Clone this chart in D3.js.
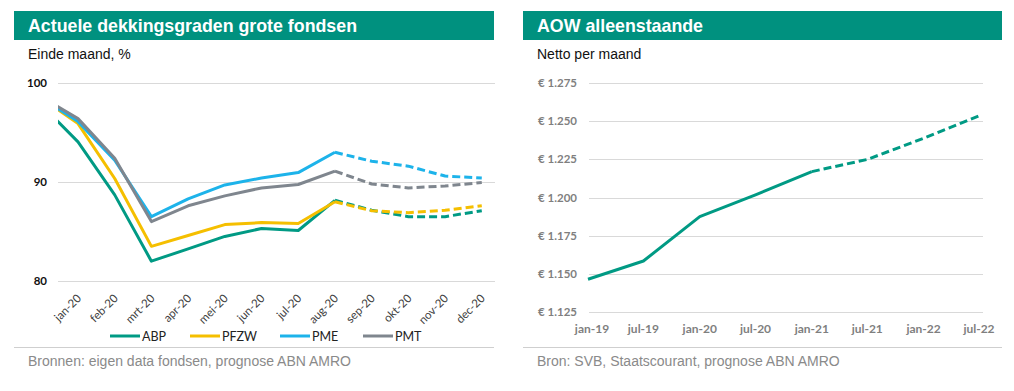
<!DOCTYPE html>
<html><head><meta charset="utf-8">
<script src="https://cdn.jsdelivr.net/npm/d3@7"></script>
<style>
html,body{margin:0;padding:0;background:#fff;}
svg{display:block;}
</style></head>
<body>
<svg id="c" width="1014" height="391"></svg>
<script>
// ---------- Left chart data ----------
const months = ["dec-19","jan-20","feb-20","mrt-20","apr-20","mei-20","jun-20","jul-20","aug-20","sep-20","okt-20","nov-20","dec-20"];
const monthLabels = ["jan-20","feb-20","mrt-20","apr-20","mei-20","jun-20","jul-20","aug-20","sep-20","okt-20","nov-20","dec-20"];
const abp  = [97.8, 94.05, 88.7, 82.0, 83.25, 84.5, 85.3, 85.1, 88.15, 87.15, 86.5, 86.5, 87.1];
const pfzw = [98.5, 95.9, 90.35, 83.5, 84.6, 85.7, 85.9, 85.8, 88.0, 87.1, 86.9, 87.15, 87.6];
const pme  = [98.5, 96.1, 92.2, 86.5, 88.3, 89.7, 90.4, 90.95, 93.0, 92.1, 91.6, 90.6, 90.4];
const pmt  = [98.6, 96.4, 92.4, 86.0, 87.6, 88.6, 89.4, 89.75, 91.1, 89.8, 89.4, 89.6, 89.95];
const forecastStart = "aug-20";
const leftTicks = [80, 90, 100];
const seriesNames = ["ABP","PFZW","PME","PMT"];

// ---------- Right chart data ----------
const aowDates = ["2019-01","2019-07","2020-01","2020-07","2021-01","2021-07","2022-01","2022-07"];
const aowLabels = ["jan-19","jul-19","jan-20","jul-20","jan-21","jul-21","jan-22","jul-22"];
const aowValues = [1.1463, 1.1583, 1.1874, 1.2017, 1.2170, 1.2250, 1.2389, 1.2536];
const aowForecastStart = "2021-01";
const rightTicks = [1.125, 1.150, 1.175, 1.200, 1.225, 1.250, 1.275];

const TEAL = "#00917f";
const colors = {ABP: "#009a84", PFZW: "#f5bf00", PME: "#1db3ea", PMT: "#7f868e"};
const seriesData = {ABP: abp, PFZW: pfzw, PME: pme, PMT: pmt};

const svg = d3.select("#c");
const AX = "Lato, 'Open Sans', sans-serif";
const TX = "'Liberation Sans', Arial, sans-serif";

function panel(x0, x1, title, subtitle, footer) {
  svg.append("rect").attr("x", x0).attr("y", 11).attr("width", x1 - x0).attr("height", 29).attr("fill", TEAL);
  svg.append("text").attr("x", x0 + 14).attr("y", 32).attr("fill", "#fff")
    .attr("font-family", TX).attr("font-weight", "bold").attr("font-size", "17.8px").text(title);
  svg.append("text").attr("x", x0 + 14).attr("y", 59).attr("fill", "#111")
    .attr("font-family", TX).attr("font-size", "14px").text(subtitle);
  svg.append("line").attr("x1", x0).attr("x2", x1).attr("y1", 347.5).attr("y2", 347.5)
    .attr("stroke", "#cfcfcf").attr("stroke-width", 1);
  svg.append("text").attr("x", x0 + 14).attr("y", 366).attr("fill", "#8a8a8a")
    .attr("font-family", TX).attr("font-size", "14px").text(footer);
}

panel(14, 494, "Actuele dekkingsgraden grote fondsen", "Einde maand, %", "Bronnen: eigen data fondsen, prognose ABN AMRO");
panel(523, 1002, "AOW alleenstaande", "Netto per maand", "Bron: SVB, Staatscourant, prognose ABN AMRO");

// ---------- Left chart ----------
{
  const x = d3.scaleLinear().domain([0.455, 12.36]).range([58, 495]);
  const y = d3.scaleLinear().domain([80, 100]).range([281, 83]);
  const g = svg.append("g");
  g.selectAll("line.grid").data(leftTicks).join("line")
    .attr("x1", 58).attr("x2", 495).attr("y1", d => Math.round(y(d)) + 0.5).attr("y2", d => Math.round(y(d)) + 0.5)
    .attr("stroke", "#d9d9d9");
  g.selectAll("text.yl").data(leftTicks).join("text")
    .attr("x", 47).attr("y", d => y(d)).attr("dy", "0.35em").attr("text-anchor", "end")
    .attr("font-family", AX).attr("font-weight", "bold").attr("font-size", "11.5px").attr("fill", "#111")
    .text(d => d);
  g.selectAll("text.xl").data(monthLabels).join("text")
    .attr("transform", d => `translate(${x(months.indexOf(d)) + 4},299) rotate(-45)`)
    .attr("text-anchor", "end")
    .attr("font-family", AX).attr("font-size", "11.5px").attr("fill", "#404040")
    .text(d => d);
  const clip = svg.append("clipPath").attr("id", "lclip");
  clip.append("rect").attr("x", 58).attr("y", 60).attr("width", 437).attr("height", 240);
  const lg = svg.append("g").attr("clip-path", "url(#lclip)");
  const fi = months.indexOf(forecastStart);
  const line = d3.line().x(d => x(d[0])).y(d => y(d[1]));
  seriesNames.forEach(name => {
    const pts = seriesData[name].map((v, i) => [i, v]);
    lg.append("path").attr("d", line(pts.slice(0, fi + 1))).attr("fill", "none")
      .attr("stroke", colors[name]).attr("stroke-width", 3).attr("stroke-linejoin", "round");
    lg.append("path").attr("d", line(pts.slice(fi))).attr("fill", "none")
      .attr("stroke", colors[name]).attr("stroke-width", 3).attr("stroke-dasharray", "8,4").attr("stroke-linejoin", "round");
  });
  // legend
  const legX = [110, 190, 280, 363];
  seriesNames.forEach((name, i) => {
    svg.append("line").attr("x1", legX[i]).attr("x2", legX[i] + 30).attr("y1", 336).attr("y2", 336)
      .attr("stroke", colors[name]).attr("stroke-width", 3);
    svg.append("text").attr("x", legX[i] + 32).attr("y", 336).attr("dy", "0.36em")
      .attr("font-family", AX).attr("font-size", "12.5px").attr("fill", "#222").text(name);
  });
}

// ---------- Right chart ----------
{
  const parse = d3.timeParse("%Y-%m");
  const x = d3.scaleTime().domain([parse(aowDates[0]), parse(aowDates[aowDates.length - 1])]).range([588, 979]);
  const y = d3.scaleLinear().domain([1.125, 1.275]).range([311.7, 83.3]);
  const g = svg.append("g");
  g.selectAll("line.grid").data(rightTicks).join("line")
    .attr("x1", 589).attr("x2", 983).attr("y1", d => Math.round(y(d)) + 0.5).attr("y2", d => Math.round(y(d)) + 0.5)
    .attr("stroke", "#d9d9d9");
  const fmt = d => "€ " + d3.format(".3f")(d);
  g.selectAll("text.yl").data(rightTicks).join("text")
    .attr("x", 577).attr("y", d => y(d)).attr("dy", "0.35em").attr("text-anchor", "end")
    .attr("font-family", AX).attr("font-weight", "bold").attr("font-size", "11.5px").attr("fill", "#7f7f7f")
    .text(fmt);
  g.selectAll("text.xl").data(aowDates).join("text")
    .attr("x", (d, i) => x(parse(d)) + (i === 0 ? 4 : 0)).attr("y", 329).attr("dy", "0.35em").attr("text-anchor", "middle")
    .attr("font-family", AX).attr("font-weight", "bold").attr("font-size", "12px").attr("fill", "#7f7f7f")
    .text((d, i) => aowLabels[i]);
  const pts = aowDates.map((d, i) => [parse(d), aowValues[i]]);
  const fi = aowDates.indexOf(aowForecastStart);
  const line = d3.line().x(d => x(d[0])).y(d => y(d[1]));
  g.append("path").attr("d", line(pts.slice(0, fi + 1))).attr("fill", "none")
    .attr("stroke", colors.ABP).attr("stroke-width", 3).attr("stroke-linejoin", "round");
  g.append("path").attr("d", line(pts.slice(fi))).attr("fill", "none")
    .attr("stroke", colors.ABP).attr("stroke-width", 3).attr("stroke-dasharray", "8,4").attr("stroke-linejoin", "round");
}
</script>
</body></html>
